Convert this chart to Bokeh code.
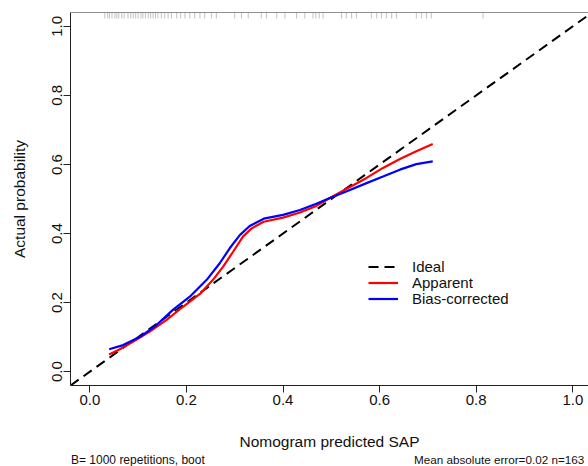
from bokeh.plotting import figure
from bokeh.layouts import column
from bokeh.models import (Range1d, Span, Legend, LegendItem, Div,
                          FixedTicker, PrintfTickFormatter, ColumnDataSource)
from bokeh.embed import file_html
from bokeh.resources import INLINE

# ---- data ----
apparent_x = [0.040, 0.062, 0.090, 0.124, 0.159, 0.193, 0.228, 0.255, 0.276,
              0.297, 0.317, 0.335, 0.360, 0.400, 0.435, 0.469, 0.497, 0.531,
              0.573, 0.607, 0.642, 0.676, 0.710]
apparent_y = [0.050, 0.065, 0.087, 0.116, 0.150, 0.188, 0.225, 0.266, 0.304,
              0.348, 0.391, 0.415, 0.434, 0.446, 0.461, 0.480, 0.503, 0.529,
              0.561, 0.590, 0.616, 0.638, 0.659]

bias_x = [0.040, 0.069, 0.104, 0.138, 0.172, 0.207, 0.242, 0.269, 0.290,
          0.311, 0.331, 0.360, 0.400, 0.435, 0.469, 0.497, 0.531, 0.573,
          0.607, 0.642, 0.676, 0.710]
bias_y = [0.065, 0.077, 0.101, 0.135, 0.179, 0.217, 0.266, 0.314, 0.358,
          0.396, 0.422, 0.443, 0.454, 0.468, 0.486, 0.503, 0.522, 0.546,
          0.565, 0.585, 0.601, 0.609]

rug_x = [0.031, 0.037, 0.041, 0.046, 0.052, 0.056, 0.060, 0.066, 0.071, 0.079,
         0.085, 0.090, 0.095, 0.100, 0.106, 0.110, 0.115, 0.121, 0.126, 0.131,
         0.136, 0.141, 0.148, 0.155, 0.162, 0.169, 0.180, 0.188, 0.197, 0.207,
         0.217, 0.228, 0.238, 0.252, 0.262, 0.300, 0.314, 0.328, 0.355, 0.366,
         0.387, 0.404, 0.428, 0.445, 0.462, 0.468, 0.475, 0.483, 0.521, 0.531,
         0.542, 0.552, 0.583, 0.594, 0.604, 0.614, 0.625, 0.635, 0.676, 0.687,
         0.697, 0.707, 0.814]

tick_values = [0.0, 0.2, 0.4, 0.6, 0.8, 1.0]
x_label = "Nomogram predicted SAP"
y_label = "Actual probability"
legend_labels = ["Ideal", "Apparent", "Bias-corrected"]
footer_left = "B= 1000 repetitions, boot"
footer_right = "Mean absolute error=0.02 n=163"

FONT = "Liberation Sans"

x_lo, x_hi = -0.04, 1.0325
y_lo, y_hi = -0.04, 1.04

p = figure(width=588, height=452, output_backend="svg", toolbar_location=None,
           x_range=Range1d(x_lo, x_hi), y_range=Range1d(y_lo, y_hi),
           min_border_left=70, min_border_right=0, min_border_top=12,
           min_border_bottom=67)
p.outline_line_color = None
p.grid.visible = False
p.background_fill_color = "white"
p.border_fill_color = "white"

for ax in (p.xaxis[0], p.yaxis[0]):
    ax.ticker = FixedTicker(ticks=tick_values)
    ax.formatter = PrintfTickFormatter(format="%.1f")
    ax.minor_tick_line_color = None
    ax.major_tick_in = 0
    ax.major_tick_out = 7
    ax.major_tick_line_color = "#222222"
    ax.axis_line_color = "#222222"
    ax.major_label_text_font = FONT
    ax.major_label_text_font_size = "15px"
    ax.major_label_text_color = "#111111"
    ax.axis_label_text_font = FONT
    ax.axis_label_text_font_size = "15.5px"
    ax.axis_label_text_font_style = "normal"
    ax.axis_label_text_color = "#111111"

p.xaxis[0].axis_label = x_label
p.xaxis[0].major_label_standoff = 2
p.xaxis[0].axis_label_standoff = 25
p.yaxis[0].axis_label = y_label
p.yaxis[0].major_label_orientation = "vertical"
p.yaxis[0].major_label_standoff = 1
p.yaxis[0].axis_label_standoff = 22

# top frame line
p.add_layout(Span(location=y_hi, dimension="width", line_color="#222222", line_width=1))

# rug at top
rug_len = 6 / 345.0
rug_src = ColumnDataSource(dict(x=rug_x, y0=[y_hi] * len(rug_x),
                                y1=[y_hi - rug_len] * len(rug_x)))
p.segment(x0="x", y0="y0", x1="x", y1="y1", source=rug_src,
          line_color="#777777", line_alpha=0.45, line_width=1)

# ideal line y = x across the whole frame
r_ideal = p.line(x=[y_lo, y_hi], y=[y_lo, y_hi], line_color="black",
                 line_width=2, line_dash="10 6")

r_app = p.line(apparent_x, apparent_y, line_color="#FF0000", line_width=2.2)
r_bias = p.line(bias_x, bias_y, line_color="#0000FF", line_width=2.2)

# one legend per row, for exact row spacing
for lab, rend, ybot in zip(legend_labels, [r_ideal, r_app, r_bias], [110, 94, 78]):
    lg = Legend(items=[LegendItem(label=lab, renderers=[rend])],
                location=(298, ybot), orientation="vertical",
                border_line_color=None, background_fill_alpha=0,
                padding=0, margin=0, spacing=0,
                glyph_width=30, glyph_height=15, label_height=15,
                label_standoff=14, label_text_font=FONT,
                label_text_font_size="15px", label_text_color="#111111")
    p.add_layout(lg, "center")

footer_html = (
    '<div style="position:relative;width:588px;height:14px;overflow:hidden;'
    'font-family:\'Liberation Sans\';color:#111111;white-space:nowrap;">'
    '<span style="position:absolute;left:71px;top:1px;font-size:12px;line-height:14px;">'
    + footer_left + '</span>'
    '<span style="position:absolute;left:414px;top:1px;font-size:11.7px;line-height:14px;">'
    + footer_right + '</span></div>'
)
footer = Div(text=footer_html, width=588, height=14, margin=0)

layout = column(p, footer, spacing=0)
open("out.html", "w").write(file_html(layout, INLINE))
